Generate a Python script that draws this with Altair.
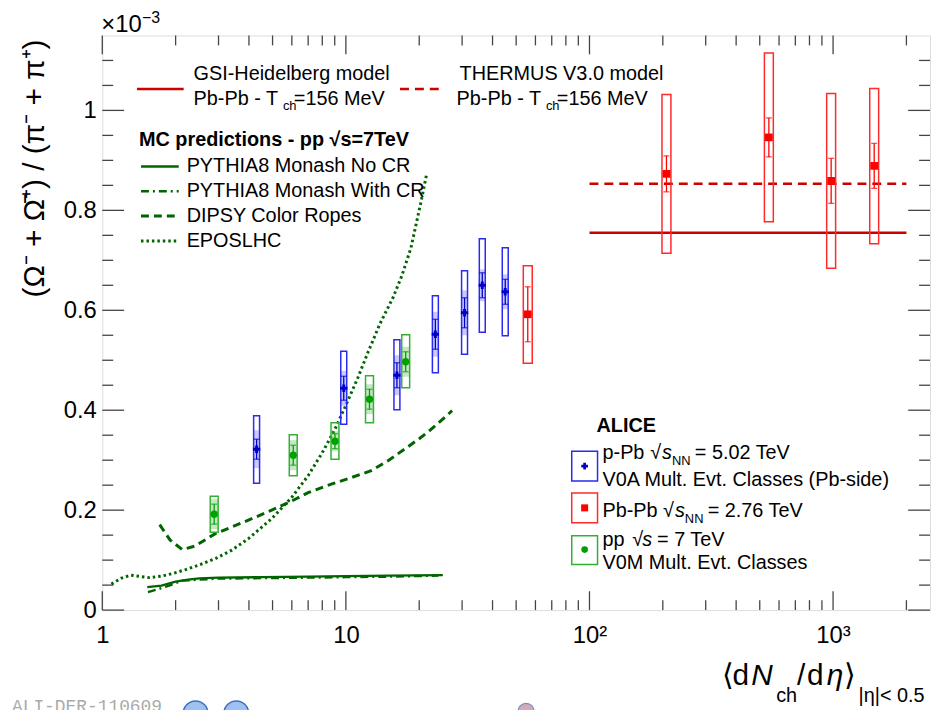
import altair as alt
import pandas as pd

# ---------------- data ----------------
# ALICE p-Pb 5.02 TeV
ppb_x = [4.3, 9.8, 16.2, 23.3, 30.7, 36.3, 45.1]
ppb_y = [0.322, 0.444, 0.470, 0.552, 0.595, 0.650, 0.637]
ppb_sys_lo = [0.254, 0.372, 0.401, 0.475, 0.512, 0.556, 0.549]
ppb_sys_hi = [0.389, 0.518, 0.541, 0.629, 0.679, 0.743, 0.725]
ppb_unc = [0.038, 0.035, 0.040, 0.045, 0.045, 0.032, 0.035]
ppb_stat = [0.020, 0.024, 0.025, 0.030, 0.030, 0.025, 0.025]

# ALICE Pb-Pb 2.76 TeV
pbpb_x = [55.8, 207, 545, 982, 1475]
pbpb_y = [0.592, 0.873, 0.946, 0.859, 0.889]
pbpb_sys_lo = [0.494, 0.714, 0.777, 0.684, 0.733]
pbpb_sys_hi = [0.689, 1.032, 1.115, 1.034, 1.044]
pbpb_stat = [0.055, 0.036, 0.039, 0.045, 0.045]

# ALICE pp 7 TeV
pp_x = [2.88, 6.08, 9.02, 12.5, 17.6]
pp_y = [0.192, 0.310, 0.338, 0.422, 0.497]
pp_sys_lo = [0.156, 0.269, 0.302, 0.375, 0.445]
pp_sys_hi = [0.228, 0.351, 0.375, 0.469, 0.551]
pp_unc = [0.030, 0.030, 0.020, 0.030, 0.030]
pp_stat = [0.020, 0.020, 0.015, 0.020, 0.020]

# thermal models (Pb-Pb)
gsi_x = [100, 2000]
gsi_y = [0.755, 0.755]
thermus_x = [100, 2000]
thermus_y = [0.853, 0.853]

# MC predictions pp 7 TeV
nocr_x = [1.53, 1.75, 2.0, 2.25, 2.5, 3.0, 4.5, 7.0, 10.0, 15.0, 25.0]
nocr_y = [0.046, 0.049, 0.057, 0.061, 0.0635, 0.065, 0.066, 0.067, 0.068, 0.069, 0.070]
cr_x = [1.54, 1.7, 1.88, 2.13, 2.5, 3.0, 4.5, 7.0, 10.0, 15.0, 24.0]
cr_y = [0.036, 0.042, 0.049, 0.059, 0.061, 0.063, 0.064, 0.065, 0.066, 0.067, 0.069]
dipsy_x = [1.72, 1.9, 2.13, 2.4, 2.91, 3.98, 4.96, 5.98, 7.0, 8.71, 10.5, 12.7, 15.0, 17.4, 20.0, 22.3, 27.3]
dipsy_y = [0.171, 0.140, 0.121, 0.128, 0.153, 0.180, 0.200, 0.218, 0.235, 0.252, 0.265, 0.279, 0.300, 0.322, 0.343, 0.361, 0.399]
epos_x = [1.09, 1.2, 1.31, 1.45, 1.56, 1.75, 1.94, 2.2, 2.49, 2.91, 3.4, 3.98, 4.96, 5.98, 7.0, 8.0, 9.0,
          10.0, 11.2, 12.3, 13.8, 15.6, 17.0, 18.5, 20.3, 21.4]
epos_y = [0.052, 0.064, 0.070, 0.067, 0.065, 0.068, 0.073, 0.081, 0.090, 0.103, 0.120, 0.143, 0.183, 0.225,
          0.269, 0.315, 0.361, 0.410, 0.465, 0.515, 0.573, 0.625, 0.670, 0.725, 0.815, 0.870]

# axis ticks
x_major = [1, 10, 100, 1000]
x_minor = [2, 3, 4, 5, 6, 7, 8, 9, 20, 30, 40, 50, 60, 70, 80, 90,
           200, 300, 400, 500, 600, 700, 800, 900, 2000]
y_major = [0, 0.2, 0.4, 0.6, 0.8, 1.0]
y_minor = [0.05, 0.1, 0.15, 0.25, 0.3, 0.35, 0.45, 0.5, 0.55, 0.65, 0.7, 0.75,
           0.85, 0.9, 0.95, 1.05, 1.1]

# ---------------- styling ----------------
FONT = "Liberation Sans"
W, H = 834, 579
FRAME = "#444444"
BLUE_BOX, BLUE_PT = "#2a2af0", "#0000c8"
RED_BOX, RED_PT = "#ff2a2a", "#ff0000"
GREEN_BOX, GREEN_PT = "#33b033", "#00a000"
MC = "#006400"
MODEL = "#cc0000"

xs = alt.Scale(type="log", domain=[1, 2500], padding=0, nice=False)
ys = alt.Scale(domain=[0, 1.15], padding=0, nice=False)

x_axis = alt.Axis(values=x_major, ticks=False, domain=False, grid=False, labelFlush=False,
                  labelExpr="datum.value == 100 ? '10²' : datum.value == 1000 ? '10³' : datum.label",
                  labelFont=FONT, labelFontSize=24, labelColor="black", labelPadding=14, title=None)
y_axis = alt.Axis(values=y_major, format="~g", ticks=False, domain=False, grid=False,
                  labelFont=FONT, labelFontSize=24, labelColor="black", labelPadding=6, title=None)


def X(f="x", axis=alt.Undefined):
    return alt.X(f, type="quantitative", scale=xs, axis=axis)


def Y(f="y", axis=alt.Undefined):
    return alt.Y(f, type="quantitative", scale=ys, axis=axis)


def series(xv, yv, lo=None, hi=None, unc=None, stat=None):
    d = pd.DataFrame({"x": xv, "y": yv})
    if lo is not None:
        d["lo"], d["hi"] = lo, hi
    if unc is not None:
        d["ulo"] = [a - b for a, b in zip(yv, unc)]
        d["uhi"] = [a + b for a, b in zip(yv, unc)]
    if stat is not None:
        d["slo"] = [a - b for a, b in zip(yv, stat)]
        d["shi"] = [a + b for a, b in zip(yv, stat)]
    return d


ppb = series(ppb_x, ppb_y, ppb_sys_lo, ppb_sys_hi, ppb_unc, ppb_stat)
pbpb = series(pbpb_x, pbpb_y, pbpb_sys_lo, pbpb_sys_hi, None, pbpb_stat)
pp = series(pp_x, pp_y, pp_sys_lo, pp_sys_hi, pp_unc, pp_stat)

layers = []

# invisible first layer carrying the axes
layers.append(alt.Chart(pp).mark_point(opacity=0).encode(x=X(axis=x_axis), y=Y(axis=y_axis)))

# MC curves
for xv, yv, dash, sw in [(epos_x, epos_y, [2.5, 3], 3), (dipsy_x, dipsy_y, [8, 5], 3),
                         (nocr_x, nocr_y, None, 2.5), (cr_x, cr_y, [8, 4, 2, 4], 2.5)]:
    kw = dict(color=MC, strokeWidth=sw)
    if dash:
        kw["strokeDash"] = dash
    layers.append(alt.Chart(pd.DataFrame({"x": xv, "y": yv})).mark_line(**kw).encode(x=X(), y=Y()))

# model lines
layers.append(alt.Chart(pd.DataFrame({"x": gsi_x, "y": gsi_y})).mark_line(color=MODEL, strokeWidth=2.5)
              .encode(x=X(), y=Y()))
layers.append(alt.Chart(pd.DataFrame({"x": thermus_x, "y": thermus_y}))
              .mark_line(color=MODEL, strokeWidth=2.5, strokeDash=[9, 6]).encode(x=X(), y=Y()))


def data_layers(d, box_col, pt_col, width, shape, size, shade_col=None, hbar=0):
    out = []
    if shade_col is not None:
        out.append(alt.Chart(d).mark_bar(size=width, color=shade_col, opacity=0.35)
                   .encode(x=X(), y=Y("ulo"), y2="uhi"))
    out.append(alt.Chart(d).mark_bar(size=width, fillOpacity=0, stroke=box_col, strokeWidth=1.5)
               .encode(x=X(), y=Y("lo"), y2="hi"))
    out.append(alt.Chart(d).mark_rule(color=pt_col, strokeWidth=1.3).encode(x=X(), y=Y("slo"), y2="shi"))
    for c in ["slo", "shi"]:
        out.append(alt.Chart(d).mark_tick(orient="horizontal", size=6, thickness=1.3, color=pt_col)
                   .encode(x=X(), y=Y(c)))
    if hbar:
        out.append(alt.Chart(d).mark_tick(orient="horizontal", size=hbar, thickness=1.3, color=pt_col)
                   .encode(x=X(), y=Y()))
    out.append(alt.Chart(d).mark_point(shape=shape, filled=True, size=size, color=pt_col, opacity=1)
               .encode(x=X(), y=Y()))
    return out


layers += data_layers(pp, GREEN_BOX, GREEN_PT, 8, "circle", 55, shade_col="#55bb55")
layers += data_layers(ppb, BLUE_BOX, BLUE_PT, 6, "cross", 55, shade_col="#6666ff")
layers += data_layers(pbpb, RED_BOX, RED_PT, 9, "square", 60, hbar=8)


# ticks (pointing inwards on all four sides)
def xticks(vals, length):
    d = pd.DataFrame({"v": vals})
    b = alt.Chart(d).mark_rule(color=FRAME, strokeWidth=1.3).encode(x=X("v"), y=alt.value(H), y2=alt.value(H - length))
    t = alt.Chart(d).mark_rule(color=FRAME, strokeWidth=1.3).encode(x=X("v"), y=alt.value(0), y2=alt.value(length))
    return [b, t]


def yticks(vals, length):
    d = pd.DataFrame({"v": vals})
    l = alt.Chart(d).mark_rule(color=FRAME, strokeWidth=1.3).encode(y=Y("v"), x=alt.value(0), x2=alt.value(length))
    r = alt.Chart(d).mark_rule(color=FRAME, strokeWidth=1.3).encode(y=Y("v"), x=alt.value(W), x2=alt.value(W - length))
    return [l, r]


layers += xticks(x_major, 19) + xticks(x_minor, 10) + yticks(y_major, 22) + yticks(y_minor, 11)

ONE = pd.DataFrame({"a": [0]})


def T(s, x, y, size=20, weight="normal", style="normal", color="black", align="left",
      baseline="middle", angle=0, font=FONT):
    return alt.Chart(ONE).mark_text(text=s, font=font, fontSize=size, fontWeight=weight, fontStyle=style,
                                    color=color, align=align, baseline=baseline, angle=angle
                                    ).encode(x=alt.value(x), y=alt.value(y))


def seg(x1, x2, y, color, sw=2.5, dash=None):
    kw = dict(color=color, strokeWidth=sw)
    if dash:
        kw["strokeDash"] = dash
    return alt.Chart(ONE).mark_rule(**kw).encode(x=alt.value(x1), x2=alt.value(x2), y=alt.value(y))


def box(x1, x2, y1, y2, color):
    return alt.Chart(ONE).mark_rect(fillOpacity=0, stroke=color, strokeWidth=1.5).encode(
        x=alt.value(x1), x2=alt.value(x2), y=alt.value(y1), y2=alt.value(y2))


def marker(x, y, shape, color, size, **kw):
    return alt.Chart(ONE).mark_point(shape=shape, filled=True, size=size, color=color, opacity=1, **kw).encode(
        x=alt.value(x), y=alt.value(y))


# exponent of the y axis
layers += [T("×10", -1, -10, size=24), T("−3", 40, -18, size=16)]

# y-axis title
layers.append(T("(Ω⁻ + Ω̄⁺) / (π⁻ + π⁺)", -68, 134, size=30, align="center", angle=270))

# x-axis title
xb, xs_b = 654, 672
layers += [
    T("⟨", 624, xb, size=30, baseline="alphabetic"),
    T("d", 635, xb, size=30, baseline="alphabetic"),
    T("N", 654, xb, size=30, style="italic", baseline="alphabetic"),
    T("ch", 679, xs_b, size=20, baseline="alphabetic"),
    T("/", 700, xb, size=30, baseline="alphabetic"),
    T("d", 710, xb, size=30, baseline="alphabetic"),
    T("η", 730, xb, size=30, style="italic", baseline="alphabetic"),
    T("⟩", 747, xb, size=30, baseline="alphabetic"),
    T("|η|< 0.5", 762, xs_b, size=20, baseline="alphabetic"),
]

# model legend
layers += [
    seg(35, 82, 54, MODEL),
    T("GSI-Heidelberg model", 92, 39),
    T("Pb-Pb - T", 92, 64), T("ch", 182, 71, size=13), T("=156 MeV", 193, 64),
    seg(300, 342, 54, MODEL, dash=[9, 6]),
    T("THERMUS V3.0 model", 360, 39),
    T("Pb-Pb - T", 357, 64), T("ch", 447, 71, size=13), T("=156 MeV", 458, 64),
]

# MC legend
layers += [
    T("MC predictions - pp  √s=7TeV", 37, 105, weight="bold"),
    seg(39, 77, 132, MC), T("PYTHIA8 Monash No CR", 85, 132),
    seg(39, 77, 157, MC, dash=[8, 4, 2, 4]), T("PYTHIA8 Monash With CR", 85, 157),
    seg(39, 77, 182, MC, sw=3, dash=[8, 5]), T("DIPSY Color Ropes", 85, 182),
    seg(39, 77, 207, MC, sw=3, dash=[2.5, 3]), T("EPOSLHC", 85, 207),
]

# ALICE legend
layers += [
    T("ALICE", 498, 394, weight="bold"),
    box(473, 499, 419, 449, BLUE_BOX), marker(486, 434, "cross", BLUE_PT, 45),
    T("p-Pb", 504, 421), T("√", 552, 421), T("s", 564, 421, style="italic"),
    T("NN", 574, 429, size=13), T("= 5.02 TeV", 597, 421),
    T("V0A Mult. Evt. Classes (Pb-side)", 504, 448),
    box(473, 499, 461, 491, RED_BOX), marker(486, 476, "square", RED_PT, 50),
    T("Pb-Pb", 504, 479), T("√", 565, 479), T("s", 577, 479, style="italic"),
    T("NN", 587, 487, size=13), T("= 2.76 TeV", 610, 479),
    box(473, 499, 504, 533, GREEN_BOX), marker(486, 518, "circle", GREEN_PT, 45),
    T("pp", 504, 508), T("√", 534, 508), T("s", 544, 508, style="italic"), T("= 7 TeV", 559, 508),
    T("V0M Mult. Evt. Classes", 504, 532),
]

# watermark and logos at the bottom edge
layers += [
    T("ALI-DER-110609", -91, 668, size=18, color="#aaaaaa", font="Liberation Mono", baseline="top"),
    marker(94, 683, "circle", "#9fc0f0", 620, stroke="#3f6fc0", strokeWidth=1.5),
    marker(135, 683, "circle", "#9fc0f0", 620, stroke="#3f6fc0", strokeWidth=1.5),
    marker(427, 681, "circle", "#d8a8b8", 260, stroke="#7090c0", strokeWidth=1.2),
]

chart = alt.layer(*layers).properties(
    width=W, height=H,
    padding={"left": 95, "top": 25, "right": 2, "bottom": 98},
    autosize="none",
).configure_view(stroke=FRAME, strokeWidth=1.8).configure(background="white")

chart.save("out.html", embed_options={"renderer": "svg", "actions": False})
